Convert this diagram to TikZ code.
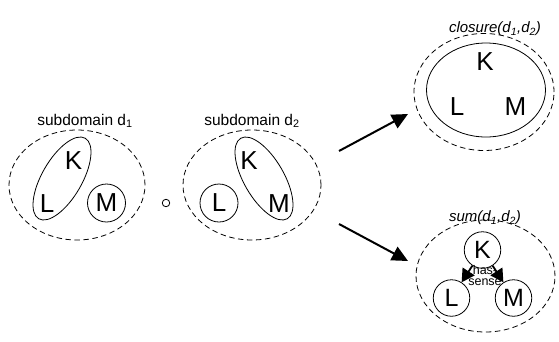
\documentclass[tikz,border=0pt]{standalone}
\usepackage{fontspec}
\setmainfont{Liberation Sans}
\usetikzlibrary{shapes.geometric,arrows.meta}
\tikzset{
  dom/.style={draw, ellipse, dash pattern=on 5.5pt off 3.5pt, line width=0.8pt, inner sep=0pt},
  grp/.style={draw, ellipse, line width=0.8pt, inner sep=0pt},
  conc/.style={draw, circle, line width=0.8pt, inner sep=0pt, minimum size=38pt},
  sconc/.style={draw, circle, line width=0.8pt, inner sep=0pt, minimum size=36.5pt},
  letter/.style={inner sep=0pt, font=\fontsize{26}{26}\selectfont},
  sletter/.style={inner sep=0pt, font=\fontsize{25}{25}\selectfont},
  lab/.style={inner sep=0pt, font=\fontsize{15.5}{16}\selectfont},
  ilab/.style={inner sep=0pt, font=\fontsize{15}{16}\selectfont\itshape},
  bigarrow/.style={line width=2pt, -{Triangle[length=16pt,width=15pt]}},
  relarrow/.style={line width=1.8pt, -{Triangle[length=13pt,width=14pt]}},
}
\begin{document}
\begin{tikzpicture}[x=1pt,y=-1pt]
\useasboundingbox (0,0) rectangle (559,341);
% left subdomain
\node[dom, minimum width=136pt, minimum height=110pt] (D1) at (77,185) {};
\node[lab] (D1lab) at (85,121) {subdomain d\textsubscript{1}};
\node[grp, minimum width=93pt, minimum height=40pt, rotate=60] (KL1) at (62,178.5) {};
\node[letter] (K1) at (73.5,160.5) {K};
\node[letter] (L1) at (47,203.5) {L};
\node[conc] (M1) at (106.5,203) {};
\node[letter] (M1t) at (106.5,203) {M};
% operator
\node[draw, circle, line width=0.8pt, minimum size=7.5pt, inner sep=0pt] (op) at (166,203) {};
% right subdomain
\node[dom, minimum width=138pt, minimum height=110pt] (D2) at (252,185) {};
\node[lab] (D2lab) at (252,121) {subdomain d\textsubscript{2}};
\node[grp, minimum width=93pt, minimum height=40pt, rotate=-60] (KM2) at (264,178.5) {};
\node[conc] (L2) at (219,203) {};
\node[letter] (L2t) at (219,203) {L};
\node[letter] (K2) at (249,160.5) {K};
\node[letter] (M2) at (279,204) {M};
% arrows
\coordinate (a1) at (339,151);
\coordinate (b1) at (408,114);
\coordinate (a2) at (339,224);
\coordinate (b2) at (408,261);
\draw[bigarrow] (a1) -- (b1);
\draw[bigarrow] (a2) -- (b2);
% closure
\node[ilab] (Clab) at (495,29) {closure(d\textsubscript{1},d\textsubscript{2})};
\node[dom, minimum width=140pt, minimum height=117pt] (C) at (484,92) {};
\node[grp, minimum width=119pt, minimum height=94pt] (Ci) at (486,90) {};
\node[letter] (Ck) at (485,62) {K};
\node[letter] (Cl) at (457,107) {L};
\node[letter] (Cm) at (515.5,107) {M};
% sum
\node[dom, minimum width=139pt, minimum height=112pt] (S) at (485.5,276) {};
\node[ilab] (Slab) at (485,218) {sum(d\textsubscript{1},d\textsubscript{2})};
\node[sconc] (Sk) at (482.5,250) {};
\node[sletter] at (482.5,250) {K};
\node[sconc] (Sl) at (451.5,298) {};
\node[sletter] at (451.5,298) {L};
\node[sconc] (Sm) at (513.5,298) {};
\node[sletter] at (513.5,298) {M};
\draw[relarrow] (Sk) -- (Sl);
\draw[relarrow] (Sk) -- (Sm);
\node[align=center, inner sep=0pt, font=\fontsize{12.5}{11}\selectfont] (hs) at (485,276) {has-\\sense};
\end{tikzpicture}
\end{document}
